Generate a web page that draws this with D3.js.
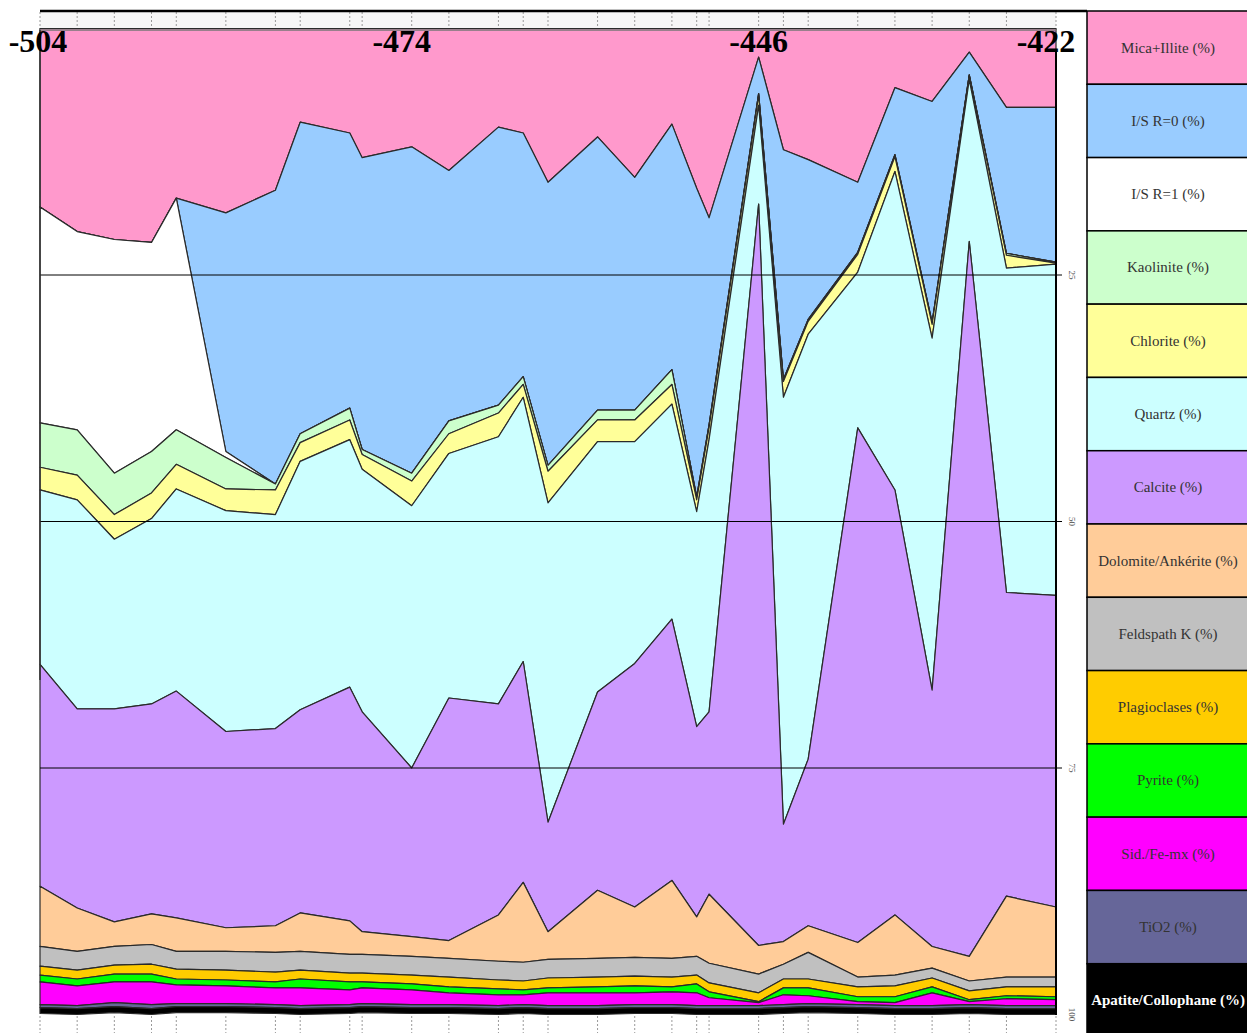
<!DOCTYPE html>
<html>
<head>
<meta charset="utf-8">
<script src="https://cdn.jsdelivr.net/npm/d3@7"></script>
<style>
  body { margin: 0; background: #fff; }
  svg { display: block; }
</style>
</head>
<body>
<svg width="1247" height="1033"></svg>
<script>
// depth of each sample (m)
var depths = [-504, -501, -498, -495, -493, -489, -485, -483, -479, -478, -474, -471, -467, -465, -463,
              -459, -456, -453, -451, -450, -446, -444, -442, -438, -435, -432, -429, -426, -422];

// mineral percentages per sample
var mica      = [18.1, 20.6, 21.4, 21.7, 17.2, 18.7, 16.4, 9.5, 10.6, 13.1, 12.0, 14.4, 10.0, 10.6, 15.6,
                 11.0, 15.1, 9.7, 16.2, 19.2, 2.9, 12.3, 13.3, 15.6, 6.0, 7.4, 2.4, 8.0, 8.0];
var isR0      = [0, 0, 0, 0, 0, 24.2, 29.8, 31.6, 27.9, 29.6, 33.1, 25.4, 28.2, 24.7, 28.7,
                 27.7, 23.6, 24.9, 31.3, 21.0, 3.7, 23.3, 16.2, 7.1, 6.8, 22.4, 2.3, 14.8, 15.7];
var isR1      = [21.9, 20.1, 23.7, 21.2, 23.5, 0.6, 0, 0, 0, 0, 0, 0, 0, 0, 0,
                 0, 0, 0, 0, 0, 0, 0, 0, 0, 0, 0, 0, 0, 0];
var kaolinite = [4.5, 4.6, 4.2, 4.2, 3.5, 3.2, 0.6, 0.9, 1.2, 0.5, 0.8, 1.3, 0.8, 0.8, 0.6,
                 1.0, 1.0, 1.5, 0.3, 0.3, 0.2, 0.2, 0.2, 0.2, 0.2, 0.2, 0.1, 0.2, 0.1];
var chlorite  = [2.3, 2.5, 2.5, 2.6, 2.5, 2.2, 2.5, 1.9, 2.0, 1.5, 2.5, 2.0, 2.4, 1.3, 3.2,
                 2.2, 2.2, 2.0, 1.2, 1.2, 1.0, 1.6, 1.3, 1.8, 1.5, 1.4, 0.4, 1.3, 0.1];
var quartz    = [17.7, 21.2, 17.2, 18.8, 20.5, 22.4, 21.7, 25.2, 25.1, 24.6, 26.6, 24.8, 27.1, 26.8, 32.4,
                 25.4, 22.5, 21.8, 21.8, 27.6, 10.0, 43.3, 43.1, 15.8, 32.3, 35.7, 16.4, 32.9, 33.6];
var calcite   = [22.5, 20.2, 21.6, 21.3, 23.0, 19.9, 20.0, 20.6, 23.7, 22.3, 17.1, 24.6, 21.4, 22.4, 11.1,
                 20.1, 24.7, 26.5, 19.3, 18.5, 75.2, 11.9, 16.9, 52.2, 43.1, 26.0, 72.5, 30.8, 31.6];
var dolomite  = [6.1, 4.4, 2.5, 3.1, 3.4, 2.4, 2.7, 3.9, 3.4, 2.3, 2.0, 1.8, 4.7, 8.1, 2.8,
                 6.9, 5.1, 7.9, 4.0, 7.0, 2.9, 2.3, 2.7, 3.5, 6.1, 2.2, 2.5, 8.2, 7.1];
var feldK     = [2.0, 1.9, 1.9, 2.0, 1.8, 1.9, 2.0, 1.9, 1.9, 1.9, 1.9, 1.9, 1.9, 1.9, 1.9,
                 1.9, 1.9, 1.9, 1.9, 2.0, 1.9, 1.5, 2.7, 1.0, 1.1, 1.0, 1.0, 1.0, 1.0];
var plagio    = [0.9, 0.9, 0.9, 1.0, 1.0, 1.0, 1.0, 0.9, 0.9, 0.9, 0.9, 1.0, 0.9, 0.9, 1.0,
                 1.0, 1.0, 1.0, 0.9, 0.9, 0.9, 0.9, 0.9, 1.0, 1.1, 0.9, 0.9, 0.9, 1.0];
var pyrite    = [0.7, 0.7, 0.8, 0.8, 0.6, 0.6, 0.6, 0.9, 0.8, 0.6, 0.6, 0.6, 0.6, 0.5, 0.5,
                 0.6, 0.7, 0.5, 0.9, 0.6, 0.1, 0.7, 0.8, 0.5, 0.6, 0.6, 0.2, 0.3, 0.3];
var siderite  = [2.3, 2.0, 2.1, 2.3, 1.9, 1.8, 1.7, 1.8, 1.5, 1.6, 1.5, 1.2, 1.1, 1.0, 1.3,
                 1.3, 1.2, 1.3, 1.3, 0.8, 0.3, 1.0, 0.8, 0.3, 0.3, 1.3, 0.3, 0.7, 0.6];
var tio2      = [0.3, 0.3, 0.4, 0.4, 0.3, 0.3, 0.3, 0.3, 0.3, 0.3, 0.3, 0.3, 0.3, 0.3, 0.3,
                 0.3, 0.3, 0.3, 0.3, 0.3, 0.3, 0.3, 0.3, 0.3, 0.3, 0.3, 0.3, 0.3, 0.3];
var apatite   = [0.6, 0.6, 0.6, 0.6, 0.6, 0.6, 0.6, 0.6, 0.6, 0.6, 0.6, 0.6, 0.6, 0.6, 0.6,
                 0.6, 0.6, 0.6, 0.6, 0.6, 0.6, 0.6, 0.6, 0.6, 0.6, 0.6, 0.6, 0.6, 0.6];

var seriesNames = ["Mica+Illite (%)", "I/S R=0 (%)", "I/S R=1 (%)", "Kaolinite (%)", "Chlorite (%)",
                   "Quartz (%)", "Calcite (%)", "Dolomite/Ankérite (%)", "Feldspath K (%)",
                   "Plagioclases (%)", "Pyrite (%)", "Sid./Fe-mx (%)", "TiO2 (%)", "Apatite/Collophane (%)"];
var seriesValues = [mica, isR0, isR1, kaolinite, chlorite, quartz, calcite, dolomite, feldK,
                    plagio, pyrite, siderite, tio2, apatite];
var colors = ["#ff99cc", "#99ccff", "#ffffff", "#ccffcc", "#ffff99", "#ccffff", "#cc99ff",
              "#ffcc99", "#c0c0c0", "#ffcc00", "#00ff00", "#ff00ff", "#666699", "#000000"];

var depthLabels = [-504, -474, -446, -422];
var pctTicks = [25, 50, 75, 100];

var svg = d3.select("svg");

var x = d3.scaleLinear().domain([-504, -422]).range([40, 1056]);
var y = d3.scaleLinear().domain([0, 100]).range([28.5, 1014.5]);

// rows for the stack
var rows = depths.map(function(d, i){
	var r = {depth: d};
	seriesNames.forEach(function(k, j){ r[k] = seriesValues[j][i]; });
	return r;
});
var stacked = d3.stack().keys(seriesNames)(rows);

var area = d3.area()
	.x(function(d){ return x(d.data.depth); })
	.y0(function(d){ return y(d[0]); })
	.y1(function(d){ return y(d[1]); });

// top band with dotted sample ticks
svg.append("rect").attr("x", 40).attr("y", 12).attr("width", 1016).attr("height", 18).style("fill", "#f6f6f6");
svg.selectAll(".ttick").data(depths).enter().append("line")
	.attr("x1", function(d){ return x(d); }).attr("x2", function(d){ return x(d); })
	.attr("y1", 12).attr("y2", 30)
	.style("stroke", "#999").style("stroke-dasharray", "2,2");
svg.selectAll(".btick").data(depths).enter().append("line")
	.attr("x1", function(d){ return x(d); }).attr("x2", function(d){ return x(d); })
	.attr("y1", 1016).attr("y2", 1033)
	.style("stroke", "#999").style("stroke-dasharray", "2,2");

// stacked areas
svg.selectAll(".layer").data(stacked).enter().append("path")
	.attr("d", area)
	.style("fill", function(d, i){ return colors[i]; })
	.style("stroke", "#2a2a2a")
	.style("stroke-width", 1.2)
	.style("stroke-linejoin", "round");

// gridlines
svg.selectAll(".grid").data([25, 50, 75]).enter().append("line")
	.attr("x1", 40).attr("x2", 1062)
	.attr("y1", function(d){ return y(d); }).attr("y2", function(d){ return y(d); })
	.style("stroke", "#000").style("stroke-width", 1);

// frame lines
svg.append("line").attr("x1", 40).attr("x2", 1087).attr("y1", 11).attr("y2", 11)
	.style("stroke", "#000").style("stroke-width", 2.5);
svg.append("line").attr("x1", 40).attr("x2", 1056).attr("y1", 30).attr("y2", 30)
	.style("stroke", "#777").style("stroke-width", 1.5);
svg.append("line").attr("x1", 1056).attr("x2", 1056).attr("y1", 50).attr("y2", 1015)
	.style("stroke", "#000").style("stroke-width", 2);
svg.append("line").attr("x1", 40).attr("x2", 40).attr("y1", 30).attr("y2", 680)
	.style("stroke", "#333").style("stroke-width", 1.5);

// right axis labels (rotated)
svg.selectAll(".plab").data(pctTicks).enter().append("text")
	.attr("transform", function(d){ return "translate(1069," + y(d) + ") rotate(90)"; })
	.attr("text-anchor", "middle")
	.style("font-family", "Liberation Serif, serif")
	.style("font-size", "9px")
	.style("fill", "#555")
	.text(function(d){ return d; });

// depth labels
svg.selectAll(".dlab").data(depthLabels).enter().append("text")
	.attr("x", function(d, i){ return x(d) + [-2, -10, 0, -10][i]; })
	.attr("y", 52)
	.attr("text-anchor", "middle")
	.style("font-family", "Liberation Serif, serif")
	.style("font-weight", "bold")
	.style("font-size", "32px")
	.style("fill", "#000")
	.text(function(d){ return d; });

// legend column
var cellH = (1037 - 11) / seriesNames.length;
var leg = svg.selectAll(".leg").data(seriesNames).enter().append("g")
	.attr("transform", function(d, i){ return "translate(1087," + (11 + i * cellH) + ")"; });
leg.append("rect")
	.attr("width", 162).attr("height", cellH)
	.style("fill", function(d, i){ return colors[i]; })
	.style("stroke", "#000").style("stroke-width", 1.5);
leg.append("text")
	.attr("x", 81).attr("y", cellH / 2 + 5)
	.attr("text-anchor", "middle")
	.style("font-family", "Liberation Serif, serif")
	.style("font-size", "15px")
	.style("font-weight", function(d, i){ return i == 13 ? "bold" : "normal"; })
	.style("fill", function(d, i){ return i == 13 ? "#fff" : "#333"; })
	.text(function(d){ return d; });
</script>
</body>
</html>
